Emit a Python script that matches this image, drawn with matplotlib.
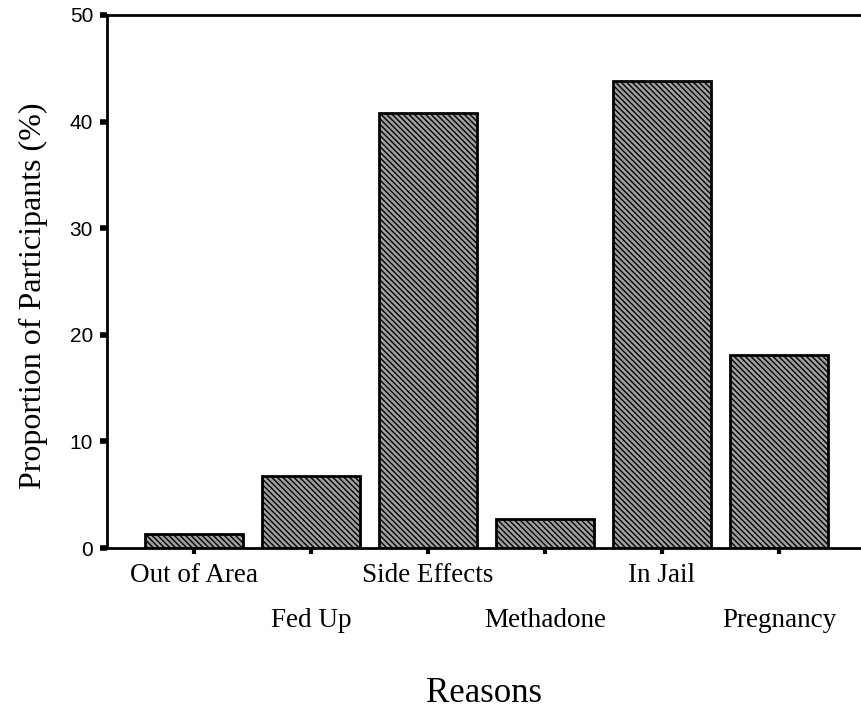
import numpy as np
import matplotlib
matplotlib.use("Agg")
import matplotlib.pyplot as plt

# data
reasons = ["Out of Area", "Fed Up", "Side Effects", "Methadone", "In Jail", "Pregnancy"]
percent = [1.3, 6.8, 40.8, 2.7, 43.8, 18.1]
y_ticks = [0, 10, 20, 30, 40, 50]

plt.rcParams['hatch.linewidth'] = 1.0
plt.rcParams['hatch.color'] = 'black'

fig = plt.figure(figsize=(8.62, 7.16), dpi=100)
ax = fig.add_axes([107 / 862, 1 - 548 / 716, 1 - 107 / 862, (548 - 15) / 716])

x = np.arange(len(reasons))
ax.bar(x, percent, width=0.84, facecolor='#a0a0a0', edgecolor='black',
       linewidth=2, hatch='\\\\\\\\\\\\')

ax.set_xlim(-0.744, 5.71)
ax.set_ylim(0, 50)

ax.spines['right'].set_visible(False)
for s in ['left', 'top', 'bottom']:
    ax.spines[s].set_linewidth(2)

ax.set_yticks(y_ticks)
ax.set_yticklabels([str(v) for v in y_ticks], family='Liberation Sans', fontsize=15)
ax.tick_params(axis='y', direction='out', length=5, width=4, pad=5)

ax.set_xticks(x)
ax.set_xticklabels([])
ax.tick_params(axis='x', direction='out', length=4, width=3)
for i, name in enumerate(reasons):
    ypos = -2.6 if i % 2 == 0 else -6.8
    ax.text(i, ypos, name, ha='center', va='center', family='Liberation Serif',
            fontsize=19.5, transform=ax.transData)

# axis titles
fig.text(33 / 862, 1 - 296 / 716, "Proportion of Participants (%)", rotation=90,
         ha='center', va='center', family='Liberation Serif', fontsize=23)
fig.text(484 / 862, 1 - 694 / 716, "Reasons", ha='center', va='center',
         family='Liberation Serif', fontsize=25)

fig.savefig("out.png", dpi=100)
